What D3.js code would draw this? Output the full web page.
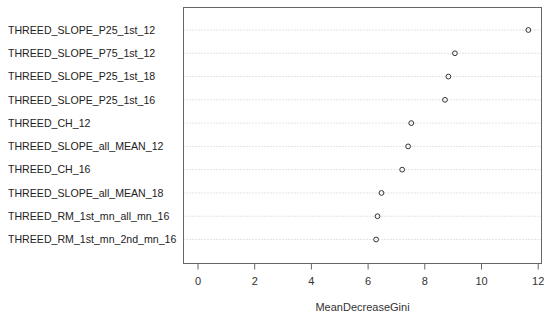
<!DOCTYPE html>
<html>
<head>
	<script src="https://cdnjs.cloudflare.com/ajax/libs/d3/7.8.5/d3.min.js"></script>
	<style>
	body { margin: 0; background: #fff; }
	text { font-family: "Liberation Sans", Arial, sans-serif; }
	</style>
</head>
<body>
	<svg></svg>
	<script>
	// variable names, top to bottom
	var names = ["THREED_SLOPE_P25_1st_12", "THREED_SLOPE_P75_1st_12", "THREED_SLOPE_P25_1st_18",
		"THREED_SLOPE_P25_1st_16", "THREED_CH_12", "THREED_SLOPE_all_MEAN_12", "THREED_CH_16",
		"THREED_SLOPE_all_MEAN_18", "THREED_RM_1st_mn_all_mn_16", "THREED_RM_1st_mn_2nd_mn_16"];
	var gini = [11.67, 9.08, 8.85, 8.73, 7.54, 7.43, 7.22, 6.49, 6.35, 6.30];
	var xTicks = [0, 2, 4, 6, 8, 10, 12];
	var xTitle = "MeanDecreaseGini";

	var width = 550, height = 320;
	var box = {left: 183.5, right: 541.5, top: 7.5, bottom: 263.5};

	var svg = d3.select("svg")
		.attr("width", width)
		.attr("height", height);

	var x = d3.scaleLinear().domain([0, 12]).range([197.5, 537.7]);
	var y = d3.scalePoint().domain(names).range([30, 239.5]);

	// dotted guide lines
	svg.append("g").selectAll("line")
		.data(names).enter()
		.append("line")
		.attr("x1", box.left).attr("x2", box.right)
		.attr("y1", function(d) { return y(d); })
		.attr("y2", function(d) { return y(d); })
		.attr("stroke", "#c8c8c8")
		.attr("stroke-width", 1)
		.attr("stroke-dasharray", "1,2");

	// labels
	svg.append("g").selectAll("text")
		.data(names).enter()
		.append("text")
		.attr("x", 8)
		.attr("y", function(d) { return y(d); })
		.attr("dy", "0.35em")
		.attr("font-size", "10.6px")
		.attr("fill", "#222")
		.text(function(d) { return d; });

	// points
	svg.append("g").selectAll("circle")
		.data(names).enter()
		.append("circle")
		.attr("cx", function(d, i) { return x(gini[i]); })
		.attr("cy", function(d) { return y(d); })
		.attr("r", 2.4)
		.attr("fill", "none")
		.attr("stroke", "#333")
		.attr("stroke-width", 1);

	// box
	svg.append("rect")
		.attr("x", box.left).attr("y", box.top)
		.attr("width", box.right - box.left)
		.attr("height", box.bottom - box.top)
		.attr("fill", "none")
		.attr("stroke", "#666")
		.attr("stroke-width", 1);

	// x axis
	var axis = svg.append("g")
		.attr("transform", "translate(0," + box.bottom + ")")
		.call(d3.axisBottom(x).tickValues(xTicks).tickSize(6).tickPadding(8).tickFormat(d3.format("d")));
	axis.select(".domain").remove();
	axis.selectAll("line").attr("stroke", "#666");
	axis.selectAll("text")
		.attr("font-size", "11px")
		.attr("fill", "#333")
		.style("font-family", "'Liberation Sans', Arial, sans-serif");

	svg.append("text")
		.attr("x", (box.left + box.right) / 2)
		.attr("y", 311)
		.attr("text-anchor", "middle")
		.attr("font-size", "11px")
		.attr("fill", "#333")
		.text(xTitle);
	</script>
</body>
</html>
